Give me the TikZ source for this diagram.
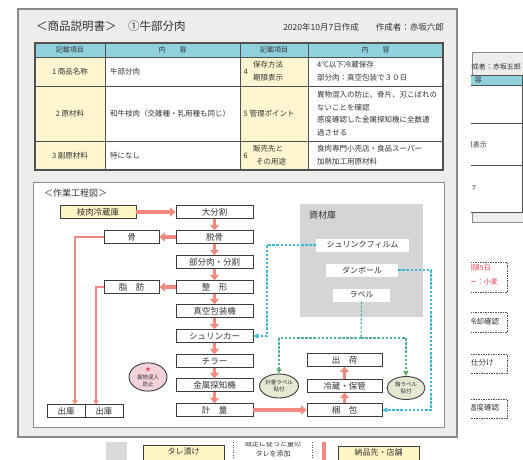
\documentclass[tikz,border=0pt]{standalone}
\usepackage{fontspec}
\setmainfont{Noto Sans CJK JP}
\usetikzlibrary{arrows.meta,shapes.geometric}
\definecolor{framefill}{HTML}{EEEDEB}
\definecolor{framedraw}{HTML}{8A8A8A}
\definecolor{hdr}{HTML}{8FD1DD}
\definecolor{lbl}{HTML}{FFF6D1}
\definecolor{tline}{HTML}{505050}
\definecolor{boxd}{HTML}{3C3C3C}
\definecolor{salmon}{HTML}{EF8A80}
\definecolor{stock}{HTML}{D4D5D7}
\definecolor{cyanl}{HTML}{3DB7D8}
\definecolor{tealg}{HTML}{4DB3A0}
\definecolor{greenh}{HTML}{5BAE6A}
\definecolor{ellg}{HTML}{E4E9D2}
\definecolor{ellp}{HTML}{F3D2DA}
\definecolor{txt}{HTML}{333333}
\definecolor{redt}{HTML}{E8384F}
\definecolor{yelbox}{HTML}{FFF4C4}
\definecolor{strip}{HTML}{D9D9D9}
\newcommand\fsz[2]{\fontsize{#1}{#2}\selectfont}
\tikzset{
 every node/.style={text=txt},
 cell/.style={draw=tline, line width=0.8pt, inner sep=0pt},
 hcell/.style={cell, fill=hdr, minimum height=14pt, font=\fsz{7}{8}},
 lcell/.style={cell, fill=lbl, align=center, font=\fsz{7.5}{13}},
 wcell/.style={cell, fill=white},
 ctext/.style={anchor=west, inner sep=0pt, align=left, font=\fsz{7.5}{13}},
 fbox/.style={draw=boxd, fill=white, line width=0.9pt, minimum height=12.5pt, inner sep=0pt, font=\fsz{8.5}{10}},
 mbox/.style={fbox, minimum width=77pt},
 rbox/.style={fbox, minimum width=75pt},
 sbox/.style={fbox, minimum width=55pt},
 obox/.style={fbox, minimum width=38pt},
 fat/.style={draw=salmon, line width=3.6pt, -{Triangle[length=5.5pt,width=9pt]}},
 thinarr/.style={draw=salmon, line width=2pt, -{Triangle[length=4pt,width=5.5pt]}},
 cyd/.style={draw=cyanl, line width=1.1pt, dash pattern=on 2.5pt off 1.6pt},
 cya/.style={cyd, -{Triangle[length=5pt,width=5pt]}},
 tgd/.style={draw=tealg, line width=1.1pt, dash pattern=on 2.5pt off 1.6pt},
 tga/.style={tgd, -{Triangle[length=5pt,width=5pt,color=greenh]}},
 stitem/.style={fill=white, inner sep=0pt, minimum height=13pt, font=\fsz{8}{10}},
 ell/.style={ellipse, draw=boxd, line width=0.9pt, inner sep=0pt, align=center, font=\fsz{5.5}{7.5}},
 dbox/.style={draw=tline, fill=white, line width=0.8pt, dash pattern=on 1.5pt off 1pt},
 small/.style={inner sep=0pt, font=\fsz{7}{10}},
}
\begin{document}
\begin{tikzpicture}[x=1pt,y=-1pt]
\fill[white] (0,0) rectangle (523,459);
\path[use as bounding box] (0,0) rectangle (523,459);
\begin{scope}
\clip (0,0) rectangle (523,459);
% main frame
\filldraw[fill=framefill, draw=framedraw, line width=1.5pt] (18,9) rectangle (457,437);
\node[anchor=west, inner sep=0pt, font=\fsz{11.5}{13}] (title) at (36,26) {＜商品説明書＞　①牛部分肉};
\node[anchor=east, inner sep=0pt, font=\fsz{8.5}{10}] (date) at (444,27) {2020年10月7日作成　　作成者：赤坂六郎};
% table header
\node[hcell, minimum width=70pt] (h1) at (70,50) {記載項目};
\node[hcell, minimum width=135pt] (h2) at (172.5,50) {内　　容};
\node[hcell, minimum width=68pt] (h3) at (274,50) {記載項目};
\node[hcell, minimum width=135pt] (h4) at (375.5,50) {内　　容};
% row 1
\node[lcell, minimum width=70pt, minimum height=29pt] (c11) at (70,71.5) {1 商品名称};
\node[wcell, minimum width=135pt, minimum height=29pt] (c12) at (172.5,71.5) {};
\node[ctext] (t12) at (110,71.5) {牛部分肉};
\node[lcell, minimum width=68pt, minimum height=29pt] (c13) at (274,71.5) {};
\node[ctext] (n13) at (243.5,71.5) {4};
\node[ctext] (t13) at (253,71.5) {保存方法\\期限表示};
\node[wcell, minimum width=135pt, minimum height=29pt] (c14) at (375.5,71.5) {};
\node[ctext] (t14) at (317,71.5) {4℃以下冷蔵保存\\部分肉：真空包装で３０日};
% row 2
\node[lcell, minimum width=70pt, minimum height=55pt] (c21) at (70,113.5) {2 原材料};
\node[wcell, minimum width=135pt, minimum height=55pt] (c22) at (172.5,113.5) {};
\node[ctext] (t22) at (110,113.5) {和牛枝肉（交雑種・乳用種も同じ）};
\node[lcell, minimum width=68pt, minimum height=55pt] (c23) at (274,113.5) {};
\node[ctext] (t23) at (243.5,113.5) {5 管理ポイント};
\node[wcell, minimum width=135pt, minimum height=55pt] (c24) at (375.5,113.5) {};
\node[ctext, font=\fsz{7.5}{12.7}] (t24) at (317,113.5) {異物混入の防止、骨片、刃こぼれの\\ないことを確認\\感度確認した金属探知機に全数通\\過させる};
% row 3
\node[lcell, minimum width=70pt, minimum height=29pt] (c31) at (70,155.5) {3 副原材料};
\node[wcell, minimum width=135pt, minimum height=29pt] (c32) at (172.5,155.5) {};
\node[ctext] (t32) at (110,155.5) {特になし};
\node[lcell, minimum width=68pt, minimum height=29pt] (c33) at (274,155.5) {};
\node[ctext] (n33) at (243.5,155.5) {6};
\node[ctext] (t33) at (253,155.5) {販売先と\\\hspace{3pt}その用途};
\node[wcell, minimum width=135pt, minimum height=29pt] (c34) at (375.5,155.5) {};
\node[ctext] (t34) at (317,155.5) {食肉専門小売店・食品スーパー\\加熱加工用原材料};
\draw[tline, line width=1.2pt] (35,43) rectangle (443,170);
% flow panel
\filldraw[fill=white, draw=framedraw, line width=1pt] (33,182) rectangle (444,427);
\node[anchor=west, inner sep=0pt, font=\fsz{9}{10}] (ftitle) at (44,193) {＜作業工程図＞};
% stock room
\node[fill=stock, minimum width=123pt, minimum height=113pt, inner sep=0pt] (stock) at (361.5,260.5) {};
\node[anchor=west, inner sep=0pt, font=\fsz{9}{10}] (stocklbl) at (309,215) {資材庫};
\node[stitem, minimum width=93pt] (film) at (362.5,245) {シュリンクフィルム};
\node[stitem, minimum width=72pt] (danbo) at (362,270) {ダンボール};
\node[stitem, minimum width=57pt] (label) at (361.5,295) {ラベル};
% main column
\node[mbox] (oobun) at (214.5,212) {大分割};
\node[mbox] (datsu) at (214.5,237) {脱骨};
\node[mbox] (bubun) at (214.5,262) {部分肉・分割};
\node[mbox] (seikei) at (214.5,287) {整　形};
\node[mbox] (shinku) at (214.5,311) {真空包装機};
\node[mbox] (shrink) at (214.5,336) {シュリンカー};
\node[mbox] (chiller) at (214.5,361) {チラー};
\node[mbox] (metal) at (214.5,385) {金属探知機};
\node[mbox] (keiryo) at (214.5,410) {計　量};
\node[fbox, fill=yelbox, minimum width=76pt] (edaniku) at (98,212) {枝肉冷蔵庫};
\node[sbox] (hone) at (131.5,237) {骨};
\node[sbox] (shibou) at (131.5,287) {脂　肪};
\node[obox] (shukko1) at (66,411) {出庫};
\node[obox] (shukko2) at (104,411) {出庫};
\node[rbox] (shukka) at (344.5,360) {出　荷};
\node[rbox] (reizo) at (344.5,386) {冷蔵・保管};
\node[rbox] (konpo) at (344.5,410) {梱　包};
\node[ell, fill=ellp, minimum width=38pt, minimum height=26pt] (ibutsu) at (148,377) {\textcolor{redt}{★}\\異物混入\\防止};
\node[ell, fill=ellg, minimum width=38pt, minimum height=24pt] (klbl) at (279,386) {計量ラベル\\貼付};
\node[ell, fill=ellg, minimum width=38pt, minimum height=23pt] (hlbl) at (406,388) {箱ラベル\\貼付};
% red arrows
\draw[fat] (edaniku) -- (oobun);
\draw[fat] (oobun) -- (datsu);
\draw[fat] (datsu) -- (hone);
\draw[fat] (datsu) -- (bubun);
\draw[fat] (bubun) -- (seikei);
\draw[fat] (seikei) -- (shibou);
\draw[fat] (seikei) -- (shinku);
\draw[fat] (shinku) -- (shrink);
\draw[fat] (shrink) -- (chiller);
\draw[fat] (chiller) -- (metal);
\draw[fat] (metal) -- (keiryo);
\draw[fat] (keiryo) -- (konpo);
\draw[fat] (konpo) -- (reizo);
\draw[fat] (reizo) -- (shukka);
\draw[thinarr] (hone.west) -| ([xshift=9pt]shukko1.north);
\draw[thinarr] (shibou.west) -| ([xshift=-8pt]shukko2.north);
% dashed supply lines
\coordinate (cf) at (267,245);
\coordinate (cd) at (431,270);
\coordinate (cl) at (361,338);
\draw[cya] (film.west) -- (cf) |- (shrink.east);
\draw[cya] (danbo.east) -- (cd) |- (konpo.east);
\draw[tgd] (label.south) -- (cl);
\draw[tga] (cl) -| (klbl.north);
\draw[tga] (cl) -| (hlbl.north);
\end{scope}
% right document fragment
\begin{scope}
\clip (471,0) rectangle (523,459);
\filldraw[fill=framefill, draw=framedraw, line width=1pt] (472,52) rectangle (540,222);
\node[anchor=east, small] (rname) at (521,67) {作成者：赤坂五郎};
\filldraw[fill=hdr, draw=tline, line width=0.8pt] (440,75) rectangle (522,85);
\node[anchor=east, small] (rhead) at (482,80) {内　容};
\filldraw[fill=white, draw=tline, line width=0.8pt] (440,85) rectangle (522,123);
\filldraw[fill=white, draw=tline, line width=0.8pt] (440,123) rectangle (522,165);
\filldraw[fill=white, draw=tline, line width=0.8pt] (440,165) rectangle (522,212);
\node[anchor=east, small] (rr2) at (487,145) {期限表示};
\node[anchor=west, small] (rr3) at (472,188) {7};
\draw[dbox] (440,262) rectangle (507,292);
\node[anchor=east, small, text=redt] (rd1) at (491,268) {賞味期限5日};
\node[anchor=east, small, text=redt] (rd2) at (498,282) {アレルギー：小麦};
\draw[dbox] (440,312) rectangle (507,332);
\node[anchor=west, small, font=\fsz{7.5}{10}] (rd3) at (469,322) {冷却確認};
\draw[dbox] (440,354) rectangle (507,373);
\node[anchor=west, small, font=\fsz{7.5}{10}] (rd4) at (471,363) {仕分け};
\draw[dbox] (440,399) rectangle (507,418);
\node[anchor=west, small, font=\fsz{7.5}{10}] (rd5) at (469,408) {温度確認};
\end{scope}
% bottom document fragment
\begin{scope}
\clip (0,442) rectangle (523,459);
\fill[strip] (106,442) rectangle (127,470);
\node[fbox, fill=yelbox, minimum width=81pt, minimum height=22pt, anchor=north, font=\fsz{8}{10}, text depth=0pt] (tare) at (183.5,445) {};
\node[inner sep=0pt, font=\fsz{8}{10}] (taret) at (183.5,451) {タレ漬け};
\draw[tline, line width=0.8pt, dash pattern=on 1pt off 1.5pt] (233,442) -- (233,470);
\draw[tline, line width=0.8pt, dash pattern=on 1pt off 1.5pt] (312,442) -- (312,470);
\node[inner sep=0pt, align=center, font=\fsz{7}{10}] (taremid) at (273,449) {既定に従った量の\\タレを添加};
\fill[salmon] (322,442) rectangle (326,470);
\node[fbox, fill=yelbox, minimum width=81pt, minimum height=22pt, anchor=north] (nohin) at (378.5,446) {};
\node[inner sep=0pt, font=\fsz{8}{10}] (nohint) at (378.5,452) {納品先・店舗};
\end{scope}
\end{tikzpicture}
\end{document}
